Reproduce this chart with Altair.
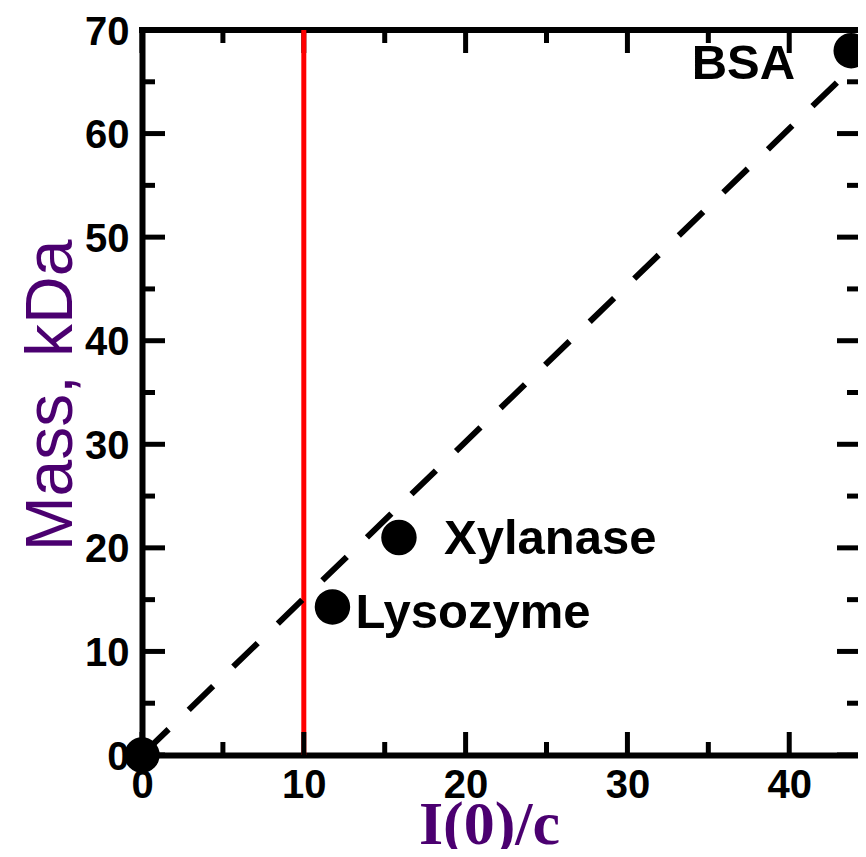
import altair as alt
import pandas as pd

# ---- data ----
protein_names = ["", "Lysozyme", "Xylanase", "BSA"]
protein_i0c = [0.0, 11.77, 15.88, 43.83]
protein_mass = [0.0, 14.3, 21.0, 68.0]

fit_x = [0.0, 44.25]
fit_y = [0.0, 66.9]

cutoff_x = [10.0]
cutoff_y = [0.0]
cutoff_y2 = [70.0]

x_major = [0, 10, 20, 30, 40]
x_minor = [5, 15, 25, 35]
y_major = [0, 10, 20, 30, 40, 50, 60, 70]
y_minor = [5, 15, 25, 35, 45, 55, 65]

X_DOMAIN = [0, 44.25]
Y_DOMAIN = [0, 70]

# ---- layout / style ----
W, H = 716, 725
PURPLE = "#4b0070"
SANS = "Liberation Sans"
SERIF = "Liberation Serif"

xs = alt.Scale(domain=X_DOMAIN, nice=False, zero=False)
ys = alt.Scale(domain=Y_DOMAIN, nice=False, zero=False)

pts = pd.DataFrame({"name": protein_names, "x": protein_i0c, "y": protein_mass})
fit = pd.DataFrame({"x": fit_x, "y": fit_y})
red = pd.DataFrame({"x": cutoff_x, "y": cutoff_y, "y2": cutoff_y2})

x_axis = alt.Axis(
    values=x_major, ticks=False, tickSize=0, grid=False,
    domainWidth=6, domainColor="black", domainCap="square",
    labelFont=SANS, labelFontSize=40, labelFontWeight="bold", labelColor="black",
    labelBaseline="alphabetic", labelPadding=42, labelFlush=False, labelOverlap=False,
    title="I(0)/c", titleFont=SERIF, titleFontSize=62, titleFontWeight="bold",
    titleColor=PURPLE, titleX=347, titleY=88, titleAlign="center",
    titleBaseline="alphabetic",
)
y_axis = alt.Axis(
    values=y_major, ticks=False, tickSize=0, grid=False,
    domainWidth=6, domainColor="black", domainCap="square",
    labelFont=SANS, labelFontSize=40, labelFontWeight="bold", labelColor="black",
    labelBaseline="alphabetic", labelOffset=14, labelPadding=13, labelAlign="right",
    labelFlush=False, labelOverlap=False,
    title="Mass, kDa", titleFont=SANS, titleFontSize=66, titleFontWeight="normal",
    titleColor=PURPLE, titleAngle=270, titleX=-71, titleY=365, titleAlign="center",
    titleBaseline="alphabetic",
)


def X(field):
    return alt.X(field, scale=xs, axis=x_axis)


def Y(field):
    return alt.Y(field, scale=ys, axis=y_axis)


red_line = alt.Chart(red).mark_rule(color="#ff0000", strokeWidth=5).encode(
    x=X("x:Q"), y=Y("y:Q"), y2="y2:Q",
)


def yticks(values, x0, x1):
    return alt.Chart(pd.DataFrame({"v": values})).mark_rule(
        color="black", strokeWidth=5
    ).encode(y=Y("v:Q"), x=alt.value(x0), x2=alt.value(x1))


def xticks(values, y0, y1):
    return alt.Chart(pd.DataFrame({"v": values})).mark_rule(
        color="black", strokeWidth=5
    ).encode(x=X("v:Q"), y=alt.value(y0), y2=alt.value(y1))


top_ticks = [
    yticks(y_major, 0, 23), yticks(y_minor, 0, 13),
    yticks(y_major, W, W - 21), yticks(y_minor, W, W - 11),
    xticks(x_major, 0, 23), xticks(x_minor, 0, 13),
]
bottom_ticks = [
    xticks(x_major, H, H - 23), xticks(x_minor, H, H - 13),
]

top_frame = alt.Chart(pd.DataFrame({"a": [0]})).mark_rule(
    color="black", strokeWidth=6, strokeCap="square"
).encode(x=alt.value(0), x2=alt.value(W), y=alt.value(0))

fit_line = alt.Chart(fit).mark_line(
    color="black", strokeWidth=6, strokeDash=[34, 28], strokeDashOffset=59,
    strokeCap="butt",
).encode(x=X("x:Q"), y=Y("y:Q"))

points = alt.Chart(pts).mark_circle(size=1257, color="black", opacity=1).encode(
    x=X("x:Q"), y=Y("y:Q"),
)


def label(name, align, dx, dy):
    return alt.Chart(pts).transform_filter(alt.datum.name == name).mark_text(
        font=SANS, fontSize=49, fontWeight="bold", color="black",
        align=align, baseline="alphabetic", dx=dx, dy=dy,
    ).encode(x=X("x:Q"), y=Y("y:Q"), text="name:N")


labels = [
    label("Lysozyme", "left", 23, 21),
    label("Xylanase", "left", 45, 16),
    label("BSA", "right", -56, 28),
]

chart = alt.layer(
    *top_ticks, top_frame, red_line, *bottom_ticks, fit_line, points, *labels
).properties(
    width=W, height=H,
    autosize=alt.AutoSizeParams(type="none"),
    padding={"left": 134, "top": 22, "right": 0, "bottom": 94},
).configure_view(stroke="transparent")

chart.save("out.html", embed_options={"renderer": "svg", "actions": False})
